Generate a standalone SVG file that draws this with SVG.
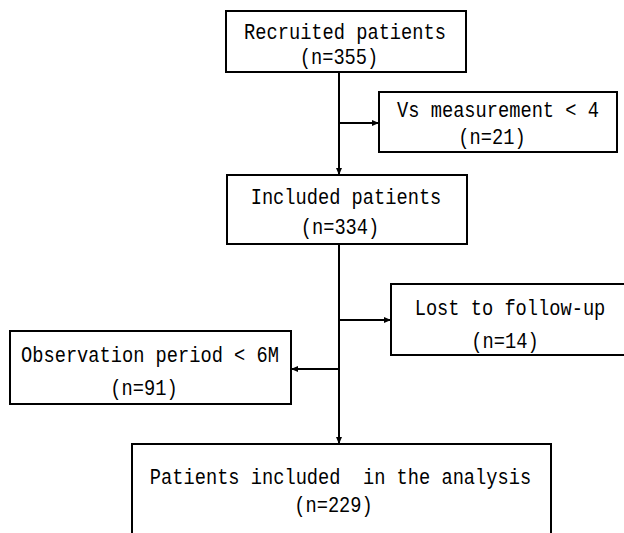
<svg xmlns="http://www.w3.org/2000/svg" width="624" height="533" viewBox="0 0 624 533">
<style>
.box{fill:#fff;stroke:#000;stroke-width:2}
.ln{fill:none;stroke:#000;stroke-width:2;marker-end:url(#ah)}
text{font-family:"Liberation Mono","DejaVu Sans Mono",monospace;font-size:18.7px;fill:#000;text-anchor:middle}
</style>
<defs>
<marker id="ah" markerUnits="userSpaceOnUse" markerWidth="8" markerHeight="8" refX="7" refY="4" orient="auto">
<path d="M0,1 L7,4 L0,7 Z" fill="#000"/>
</marker>
</defs>
<rect width="624" height="533" fill="#fff"/>
<g id="connectors">
<path class="ln" d="M339,72 V175"/>
<path class="ln" d="M339,123 H379"/>
<path class="ln" d="M339,244 V444"/>
<path class="ln" d="M339,320 H391"/>
<path class="ln" d="M339,369 H291"/>
</g>
<g id="recruited">
<rect class="box" x="226" y="11" width="240" height="61"/>
<text transform="translate(345,39) scale(1,1.2)">Recruited patients</text>
<text transform="translate(339,64) scale(1,1.2)">(n=355)</text>
</g>
<g id="vs">
<rect class="box" x="379" y="92" width="238" height="60"/>
<text transform="translate(498,117) scale(1,1.2)">Vs measurement &lt; 4</text>
<text transform="translate(492,144) scale(1,1.2)">(n=21)</text>
</g>
<g id="included">
<rect class="box" x="227" y="175" width="240" height="69"/>
<text transform="translate(346,204) scale(1,1.2)">Included patients</text>
<text transform="translate(340,234) scale(1,1.2)">(n=334)</text>
</g>
<g id="lost">
<rect class="box" x="391" y="284" width="240" height="71"/>
<text transform="translate(510,315) scale(1,1.2)">Lost to follow-up</text>
<text transform="translate(505,348) scale(1,1.2)">(n=14)</text>
</g>
<g id="observation">
<rect class="box" x="10" y="331" width="281" height="73"/>
<text transform="translate(150,362) scale(1,1.2)">Observation period &lt; 6M</text>
<text transform="translate(144,395) scale(1,1.2)">(n=91)</text>
</g>
<g id="analysis">
<rect class="box" x="132" y="444" width="419" height="100"/>
<text transform="translate(340.5,484) scale(1,1.2)" xml:space="preserve">Patients included  in the analysis</text>
<text transform="translate(333.5,512) scale(1,1.2)">(n=229)</text>
</g>
</svg>
